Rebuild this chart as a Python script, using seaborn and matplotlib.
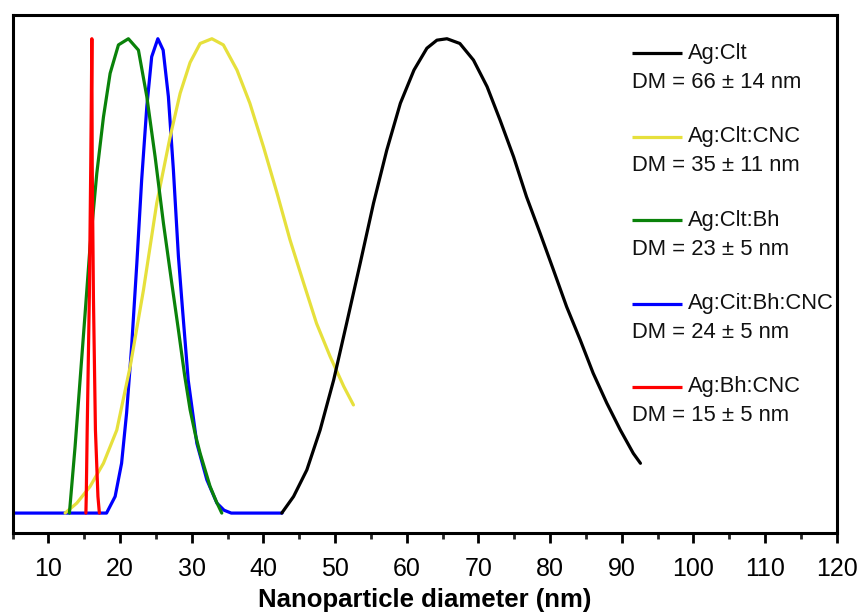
import numpy as np
import pandas as pd
import matplotlib
matplotlib.use("Agg")
import matplotlib.pyplot as plt
import seaborn as sns
from matplotlib.ticker import MultipleLocator

# size distributions (normalised height)
cit_x = [42.55, 44.2, 46.05, 47.9, 49.8, 51.6, 53.5, 55.35, 57.2, 59.1, 61.0,
         62.8, 64.2, 65.6, 67.4, 69.3, 71.2, 73.0, 74.9, 76.7, 78.6, 80.45,
         82.3, 84.2, 86.0, 87.9, 89.8, 91.6, 92.6]
cit_y = [0.0, 0.035, 0.091, 0.175, 0.281, 0.400, 0.527, 0.653, 0.765, 0.864, 0.934,
         0.980, 0.997, 1.0, 0.990, 0.955, 0.899, 0.829, 0.751, 0.667, 0.590, 0.513,
         0.435, 0.365, 0.295, 0.232, 0.175, 0.126, 0.105]

citcnc_x = [12.32, 13.95, 15.8, 17.67, 19.53, 21.4, 23.25, 25.1, 26.97, 28.37,
            29.76, 31.16, 32.8, 34.4, 36.3, 38.1, 40.0, 41.9, 43.7, 45.6, 47.4,
            49.3, 51.2, 52.55]
citcnc_y = [0.0, 0.021, 0.056, 0.105, 0.175, 0.309, 0.470, 0.653, 0.793, 0.885,
            0.950, 0.990, 1.0, 0.987, 0.934, 0.864, 0.772, 0.674, 0.576, 0.485, 0.400,
            0.330, 0.267, 0.228]

citbh_x = [12.92, 13.71, 14.41, 15.11, 15.8, 16.74, 17.67, 18.6, 19.76, 21.15,
           22.55, 23.72, 24.88, 26.04, 27.2, 28.13, 29.0, 29.76, 30.5, 31.16,
           32.55, 33.4, 34.18]
citbh_y = [0.0, 0.140, 0.281, 0.421, 0.562, 0.716, 0.835, 0.927, 0.987, 1.0,
           0.976, 0.878, 0.751, 0.611, 0.485, 0.386, 0.290, 0.218, 0.165, 0.126,
           0.056, 0.025, 0.0]

citbhcnc_x = [5.0, 18.1, 19.3, 20.2, 20.9, 21.6, 22.33, 23.0, 23.72, 24.4, 25.26,
              26.0, 26.73, 27.43, 28.13, 28.7, 29.5, 30.7, 32.1, 33.5, 34.5, 35.5,
              42.6]
citbhcnc_y = [0.0, 0.0, 0.035, 0.105, 0.211, 0.351, 0.527, 0.702, 0.857, 0.962, 1.0,
              0.976, 0.878, 0.723, 0.541, 0.430, 0.280, 0.147, 0.070, 0.021, 0.006,
              0.0, 0.0]

bhcnc_x = [15.22, 15.27, 15.4, 15.7, 15.9, 16.05, 16.1, 16.27, 16.55, 16.9, 17.1]
bhcnc_y = [0.0, 0.035, 0.175, 0.456, 0.737, 1.0, 0.737, 0.456, 0.175, 0.035, 0.0]

names = ["Ag:Clt", "Ag:Clt:CNC", "Ag:Clt:Bh", "Ag:Cit:Bh:CNC", "Ag:Bh:CNC"]
dm_labels = ["DM = 66 ± 14 nm", "DM = 35 ± 11 nm", "DM = 23 ± 5 nm",
             "DM = 24 ± 5 nm", "DM = 15 ± 5 nm"]
colors = ["#000000", "#e6e03c", "#0a820a", "#0000ff", "#ff0000"]

series = [(cit_x, cit_y), (citcnc_x, citcnc_y), (citbh_x, citbh_y),
          (citbhcnc_x, citbhcnc_y), (bhcnc_x, bhcnc_y)]

sns.set_style("ticks")
plt.rcParams["font.family"] = ["Liberation Sans", "DejaVu Sans"]

fig = plt.figure(figsize=(8.61, 6.13), dpi=100)
ax = fig.add_axes([0.0147, 0.1305, 0.9572, 0.8450])

# draw order: blue baseline first so black sits on top where they meet
draw_order = [3, 1, 2, 4, 0]
for i in draw_order:
    xs, ys = series[i]
    df = pd.DataFrame({"x": xs, "y": ys})
    sns.lineplot(data=df, x="x", y="y", color=colors[i], lw=2.3,
                 estimator=None, sort=False, ax=ax)

ax.set_xlim(5, 120)
ax.set_ylim(-0.042, 1.05)
ax.xaxis.set_major_locator(MultipleLocator(10))
ax.xaxis.set_minor_locator(MultipleLocator(5))
ax.set_yticks([])
ax.set_ylabel("")
ax.set_xlabel("Nanoparticle diameter (nm)", fontsize=18.5, fontweight="bold",
              labelpad=5, color="black")
ax.tick_params(axis="x", which="major", length=7, width=2, labelsize=18,
               pad=10, colors="black")
ax.tick_params(axis="x", which="minor", length=4.5, width=2)
for s in ax.spines.values():
    s.set_visible(True)
    s.set_linewidth(2.2)
    s.set_color("black")

# legend drawn by hand: handle + name, then DM line underneath
for k in range(len(names)):
    y0 = 0.926 - k * 0.161
    ax.plot([0.751, 0.812], [y0, y0], transform=ax.transAxes, color=colors[k],
            lw=2.3, solid_capstyle="butt")
    ax.text(0.819, y0, names[k], transform=ax.transAxes, fontsize=15.8,
            va="center", ha="left", color="#111111")
    ax.text(0.752, y0 - 0.056, dm_labels[k], transform=ax.transAxes,
            fontsize=15.8, va="center", ha="left", color="#111111")

fig.savefig("out.png", dpi=100)
